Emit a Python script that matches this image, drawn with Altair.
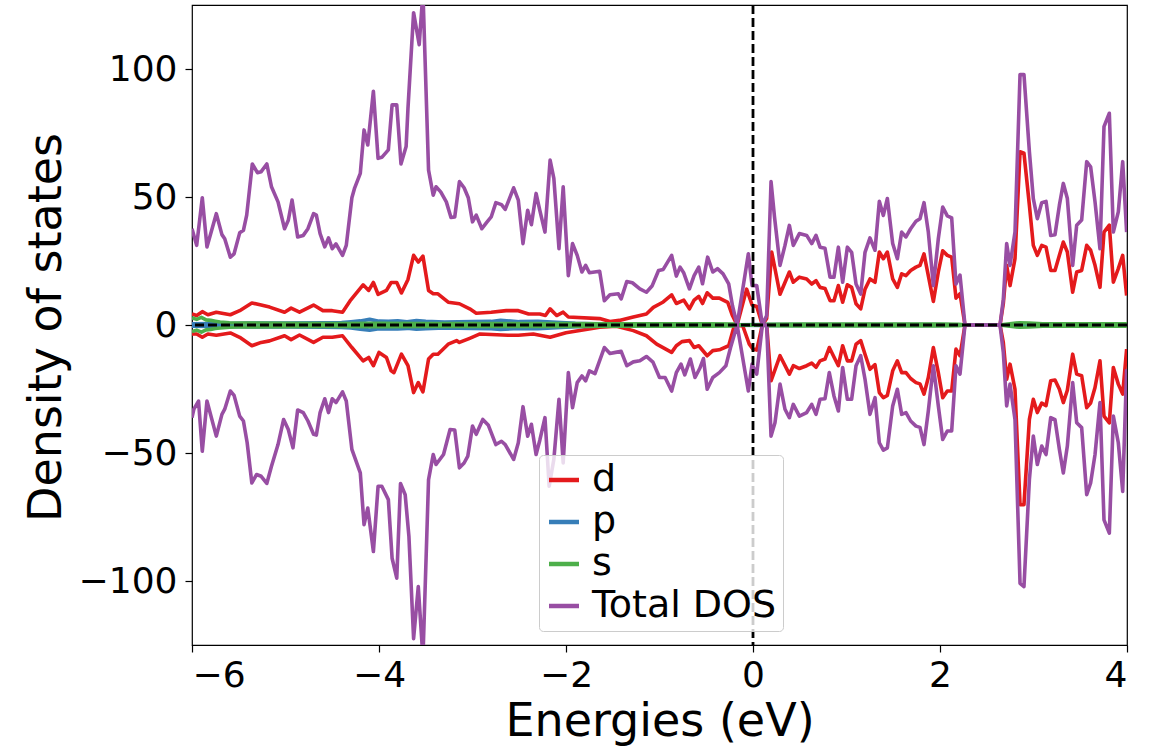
import altair as alt
import pandas as pd

# ---- projected density of states (spin up > 0, spin down < 0) ----
total_up_e = [-6.00, -5.95, -5.89, -5.84, -5.74, -5.68, -5.65, -5.59, -5.55, -5.49, -5.45, -5.415,
              -5.355, -5.30, -5.26, -5.20, -5.15, -5.08, -5.01, -4.97, -4.93, -4.87, -4.81, -4.76,
              -4.70, -4.67, -4.63, -4.58, -4.54, -4.50, -4.46, -4.39, -4.35, -4.29, -4.26, -4.20,
              -4.16, -4.12, -4.06, -4.01, -3.97, -3.90, -3.86, -3.81, -3.765, -3.71, -3.69, -3.63,
              -3.57, -3.53, -3.47, -3.42, -3.39, -3.34, -3.28, -3.23, -3.19, -3.14, -3.09, -3.045,
              -3.00, -2.96, -2.90, -2.85, -2.80, -2.75, -2.69, -2.65, -2.56, -2.51, -2.46, -2.41,
              -2.37, -2.32, -2.28, -2.225, -2.17, -2.13, -2.075, -2.03, -1.975, -1.93, -1.88, -1.83,
              -1.79, -1.75, -1.64, -1.59, -1.53, -1.44, -1.41, -1.35, -1.29, -1.21, -1.14, -1.08,
              -1.01, -0.96, -0.87, -0.82, -0.78, -0.74, -0.68, -0.63, -0.58, -0.54, -0.485, -0.43,
              -0.38, -0.32, -0.26, -0.22, -0.17, -0.05, -0.01, 0.04, 0.10, 0.146, 0.193, 0.23,
              0.289, 0.342, 0.389, 0.431, 0.496, 0.574, 0.628, 0.674, 0.717, 0.77, 0.824, 0.866,
              0.913, 0.959, 1.009, 1.055, 1.102, 1.152, 1.198, 1.251, 1.305, 1.351, 1.394, 1.437,
              1.494, 1.544, 1.59, 1.636, 1.686, 1.743, 1.786, 1.829, 1.875, 1.929, 1.982, 2.029,
              2.078, 2.125, 2.171, 2.214, 2.267, 2.642, 2.677, 2.713, 2.749, 2.802, 2.856, 2.898,
              2.956, 2.998, 3.041, 3.088, 3.134, 3.184, 3.23, 3.277, 3.319, 3.362, 3.419, 3.462,
              3.515, 3.569, 3.611, 3.658, 3.711, 3.754, 3.811, 3.854, 3.907, 3.954, 3.996]
total_up = [37.6, 31.1, 49.7, 30.5, 43.5, 35.3, 33.7, 26.5, 27.8, 36.0, 37.0, 42.9,
            62.9, 59.5, 59.9, 62.9, 54.0, 48.1, 37.6, 40.9, 48.8, 34.4, 35.0, 37.6,
            43.5, 42.9, 35.7, 30.5, 34.0, 29.8, 31.7, 27.2, 31.1, 49.7, 53.6, 59.2,
            76.2, 70.3, 91.3, 65.1, 65.5, 68.4, 86.0, 86.0, 62.9, 69.7, 84.7, 122.0,
            109.5, 130.0, 60.5, 50.7, 54.0, 52.0, 48.1, 42.0, 42.2, 56.0, 53.6, 49.7,
            40.3, 42.9, 37.6, 40.0, 42.2, 47.8, 47.0, 45.2, 53.6, 48.8, 31.8, 44.8,
            39.2, 51.4, 44.8, 36.3, 64.4, 57.3, 29.8, 54.0, 19.3, 31.8, 27.2, 20.7,
            23.3, 20.4, 21.0, 9.5, 11.8, 12.2, 10.2, 17.0, 16.5, 14.1, 12.8, 15.2,
            21.3, 21.7, 27.2, 19.1, 22.6, 20.3, 14.1, 19.3, 22.6, 16.1, 26.5, 20.7,
            22.0, 20.0, 16.1, 7.6, 0.0, 27.8, 15.4, 15.4, 0.0, 3.7, 56.0, 42.2,
            23.3, 31.1, 38.9, 31.1, 35.7, 35.0, 31.8, 35.0, 30.4, 30.0, 18.7, 18.7,
            30.4, 16.7, 30.4, 28.4, 16.0, 12.1, 28.4, 34.0, 29.2, 48.3, 42.8, 49.4,
            31.8, 25.9, 36.3, 34.4, 37.6, 40.5, 41.5, 47.8, 36.3, 15.4, 33.7, 46.1,
            42.6, 41.8, 16.0, 19.5, 0.0, 0.0, 10.0, 31.8, 23.3, 36.3, 97.8, 97.8,
            67.7, 49.4, 41.5, 47.8, 48.3, 35.0, 35.3, 46.8, 55.3, 49.4, 23.3, 39.0,
            41.0, 63.8, 61.8, 48.1, 29.8, 77.5, 82.7, 36.3, 44.2, 63.8, 36.3]

total_dn_e = [-6.00, -5.98, -5.93, -5.89, -5.84, -5.74, -5.68, -5.65, -5.59, -5.55, -5.49, -5.45,
              -5.41, -5.36, -5.31, -5.26, -5.20, -5.15, -5.08, -5.02, -4.97, -4.92, -4.87, -4.81,
              -4.76, -4.70, -4.67, -4.63, -4.58, -4.54, -4.50, -4.46, -4.39, -4.35, -4.29, -4.20,
              -4.16, -4.12, -4.06, -4.01, -3.97, -3.90, -3.86, -3.81, -3.77, -3.72, -3.68, -3.63,
              -3.58, -3.53, -3.47, -3.42, -3.39, -3.31, -3.24, -3.19, -3.14, -3.09, -3.05, -3.00,
              -2.96, -2.89, -2.83, -2.75, -2.69, -2.65, -2.56, -2.51, -2.46, -2.41, -2.37, -2.32,
              -2.28, -2.225, -2.18, -2.13, -2.075, -2.03, -1.975, -1.93, -1.88, -1.83, -1.79, -1.75,
              -1.69, -1.59, -1.53, -1.47, -1.41, -1.35, -1.28, -1.21, -1.14, -1.07, -1.00, -0.94,
              -0.87, -0.82, -0.77, -0.73, -0.67, -0.62, -0.57, -0.53, -0.49, -0.43, -0.36, -0.29,
              -0.24, -0.17, -0.05, -0.01, 0.04, 0.10, 0.146, 0.193, 0.235, 0.289, 0.342, 0.389,
              0.431, 0.496, 0.574, 0.628, 0.674, 0.717, 0.77, 0.816, 0.866, 0.913, 0.959, 1.009,
              1.055, 1.102, 1.152, 1.198, 1.251, 1.305, 1.351, 1.394, 1.437, 1.494, 1.544, 1.59,
              1.636, 1.686, 1.743, 1.786, 1.829, 1.875, 1.929, 1.982, 2.029, 2.078, 2.125, 2.171,
              2.214, 2.267, 2.642, 2.677, 2.713, 2.749, 2.802, 2.856, 2.898, 2.956, 2.998, 3.041,
              3.088, 3.134, 3.184, 3.23, 3.277, 3.319, 3.362, 3.419, 3.462, 3.515, 3.569, 3.611,
              3.658, 3.711, 3.754, 3.811, 3.854, 3.907, 3.954, 3.996]
total_dn = [-36.2, -32.9, -29.7, -49.3, -29.7, -43.4, -34.9, -32.9, -25.8, -27.5, -35.6, -37.5,
            -46.0, -61.7, -58.4, -59.1, -61.9, -55.2, -46.7, -36.9, -40.8, -48.0, -33.2, -34.2,
            -37.5, -42.7, -43.0, -34.2, -28.8, -34.2, -28.8, -30.3, -26.1, -29.7, -48.6, -57.8,
            -78.0, -71.5, -88.5, -63.0, -63.0, -68.2, -91.1, -98.9, -61.9, -66.3, -82.6, -122.5,
            -102.2, -130.0, -60.4, -50.6, -54.5, -50.6, -40.8, -41.0, -55.8, -53.9, -51.2, -39.5,
            -42.7, -36.9, -39.2, -46.7, -45.4, -46.7, -52.5, -46.0, -31.9, -43.4, -38.8, -50.6,
            -45.0, -36.2, -63.0, -52.5, -29.0, -53.9, -18.6, -32.3, -22.5, -19.9, -21.8, -17.9,
            -19.0, -8.8, -11.1, -10.7, -10.3, -15.9, -14.4, -14.0, -12.3, -14.5, -20.5, -20.5,
            -25.8, -18.6, -15.3, -19.5, -13.3, -20.5, -17.0, -13.1, -25.1, -20.5, -18.6, -15.9,
            -8.8, 0.0, -25.8, -15.3, -19.2, 0.0, 0.0, -43.4, -38.2, -23.1, -32.9, -36.2,
            -31.0, -35.6, -34.2, -31.0, -34.9, -29.0, -28.8, -18.6, -27.7, -33.6, -16.6, -29.0,
            -29.0, -15.9, -12.0, -21.2, -34.9, -28.4, -46.0, -48.9, -48.0, -31.6, -25.1, -34.9,
            -34.2, -37.5, -39.5, -40.0, -46.7, -33.6, -15.9, -31.6, -44.7, -41.4, -41.4, -15.9,
            -19.2, 0.0, 0.0, -10.7, -31.6, -23.1, -36.9, -100.9, -102.2, -60.4, -43.4, -54.5,
            -47.3, -50.6, -36.2, -37.0, -48.6, -57.8, -47.3, -22.5, -38.2, -40.1, -66.3, -61.7,
            -50.6, -30.3, -76.1, -81.3, -35.6, -46.0, -65.0, -17.3]

d_up_e = [-6.00, -5.95, -5.89, -5.83, -5.74, -5.59, -5.49, -5.36, -5.26, -5.17, -5.01, -4.94,
          -4.85, -4.70, -4.60, -4.50, -4.39, -4.31, -4.17, -4.11, -4.06, -4.01, -3.92, -3.87,
          -3.81, -3.76, -3.69, -3.63, -3.58, -3.53, -3.47, -3.42, -3.37, -3.26, -3.14, -3.03,
          -2.96, -2.80, -2.64, -2.51, -2.40, -2.28, -2.22, -2.17, -2.10, -2.03, -1.975, -1.64,
          -1.53, -1.43, -1.28, -1.14, -1.066, -0.96, -0.87, -0.82, -0.74, -0.68, -0.63, -0.58,
          -0.54, -0.49, -0.43, -0.36, -0.27, -0.22, -0.17, -0.068, -0.01, 0.04, 0.10, 0.146,
          0.20, 0.289, 0.389, 0.431, 0.496, 0.574, 0.628, 0.674, 0.717, 0.77, 0.824, 0.866,
          0.913, 0.959, 1.009, 1.055, 1.102, 1.152, 1.198, 1.251, 1.305, 1.351, 1.394, 1.437,
          1.494, 1.544, 1.59, 1.636, 1.686, 1.743, 1.786, 1.829, 1.875, 1.929, 1.982, 2.029,
          2.078, 2.125, 2.171, 2.214, 2.267, 2.642, 2.677, 2.713, 2.749, 2.802, 2.856, 2.898,
          2.956, 2.998, 3.041, 3.088, 3.134, 3.184, 3.23, 3.277, 3.319, 3.362, 3.419, 3.462,
          3.515, 3.569, 3.611, 3.658, 3.711, 3.754, 3.811, 3.854, 3.907, 3.954, 3.996]
d_up = [4.3, 3.7, 5.2, 4.0, 5.0, 4.0, 5.6, 8.6, 7.8, 7.0, 5.0, 6.6,
        5.0, 7.8, 5.6, 5.6, 5.0, 9.4, 15.7, 13.5, 16.6, 12.0, 13.5, 16.6,
        16.6, 12.5, 17.8, 27.2, 24.6, 26.9, 13.5, 12.2, 12.2, 8.9, 8.3, 6.3,
        4.6, 5.0, 5.6, 5.6, 4.3, 4.3, 3.7, 6.3, 3.7, 5.0, 3.1, 2.5,
        1.4, 1.8, 3.1, 4.3, 6.9, 9.0, 11.8, 8.4, 9.7, 6.3, 9.7, 11.2,
        8.4, 12.6, 10.5, 10.5, 8.8, 3.7, 0.0, 14.0, 7.8, 7.2, 0.0, 2.5,
        28.5, 12.0, 20.7, 16.7, 18.7, 18.0, 16.0, 17.3, 14.7, 14.3, 9.5, 9.5,
        15.4, 8.9, 15.7, 14.7, 8.3, 6.3, 14.0, 18.0, 16.7, 28.5, 25.9, 28.5,
        18.0, 14.7, 20.0, 19.3, 21.3, 22.6, 23.3, 27.8, 19.3, 9.2, 20.7, 29.0,
        27.2, 26.5, 10.5, 12.2, 0.0, 0.0, 8.3, 23.3, 15.4, 25.9, 67.7, 67.1,
        46.8, 31.1, 27.2, 31.1, 30.4, 21.3, 21.3, 27.2, 32.4, 28.5, 12.8, 20.7,
        21.3, 31.1, 29.2, 23.3, 14.7, 36.3, 39.0, 16.7, 22.0, 27.2, 11.5]

d_dn_e = [-6.00, -5.95, -5.89, -5.83, -5.74, -5.59, -5.49, -5.36, -5.26, -5.17, -5.01, -4.94,
          -4.85, -4.70, -4.60, -4.50, -4.39, -4.29, -4.17, -4.11, -4.06, -4.00, -3.92, -3.87,
          -3.84, -3.76, -3.69, -3.63, -3.58, -3.53, -3.47, -3.42, -3.37, -3.26, -3.17, -3.14,
          -3.03, -2.92, -2.62, -2.51, -2.35, -2.17, -2.00, -1.64, -1.46, -1.28, -1.14, -1.03,
          -0.87, -0.82, -0.76, -0.68, -0.63, -0.58, -0.49, -0.43, -0.36, -0.26, -0.20, -0.11,
          -0.04, 0.00, 0.04, 0.10, 0.146, 0.193, 0.289, 0.389, 0.431, 0.496, 0.574, 0.628,
          0.674, 0.717, 0.77, 0.816, 0.866, 0.913, 0.959, 1.009, 1.055, 1.102, 1.152, 1.198,
          1.251, 1.305, 1.351, 1.394, 1.437, 1.494, 1.544, 1.59, 1.636, 1.686, 1.743, 1.786,
          1.829, 1.875, 1.929, 1.982, 2.029, 2.078, 2.125, 2.171, 2.214, 2.267, 2.642, 2.677,
          2.713, 2.749, 2.802, 2.856, 2.898, 2.956, 2.998, 3.041, 3.088, 3.134, 3.184, 3.23,
          3.277, 3.319, 3.362, 3.419, 3.462, 3.515, 3.569, 3.611, 3.658, 3.711, 3.754, 3.811,
          3.854, 3.907, 3.954, 3.996]
d_dn = [-3.5, -3.5, -4.8, -3.5, -4.0, -3.1, -4.8, -8.1, -6.8, -6.2, -4.2, -5.7,
        -3.9, -6.8, -4.8, -4.8, -4.2, -8.8, -14.0, -12.7, -15.9, -10.7, -12.7, -17.9,
        -18.6, -11.4, -15.9, -26.4, -22.5, -26.1, -13.3, -11.4, -11.4, -7.5, -6.1, -6.8,
        -5.2, -3.5, -4.0, -4.0, -3.5, -4.8, -3.0, -0.9, -0.5, -2.2, -4.2, -7.5,
        -10.7, -8.1, -6.5, -6.1, -8.8, -8.1, -12.0, -10.0, -9.7, -8.1, -0.3, -0.3,
        -7.5, -9.4, -9.8, 0.0, 0.0, -21.8, -12.0, -19.2, -15.9, -17.0, -15.9, -14.9,
        -16.5, -14.0, -13.3, -8.8, -12.5, -15.9, -8.1, -14.0, -14.0, -7.5, -6.1, -11.4,
        -17.3, -15.5, -26.4, -28.4, -27.5, -17.9, -14.0, -18.6, -18.6, -20.9, -22.5, -23.0,
        -27.0, -20.5, -8.8, -18.6, -28.4, -25.8, -25.8, -9.4, -12.0, 0.0, 0.0, -6.8,
        -21.2, -15.3, -25.1, -70.2, -70.2, -36.9, -29.0, -34.2, -30.5, -31.5, -21.8, -21.5,
        -25.1, -30.3, -25.5, -11.4, -19.2, -19.8, -32.3, -30.5, -24.4, -14.0, -35.6, -38.2,
        -16.6, -23.1, -27.0, -9.4]

p_e = [-6.0, -5.8, -5.6, -5.4, -5.0, -4.6, -4.4, -4.3, -4.2, -4.1, -4.0, -3.9, -3.8, -3.7,
       -3.6, -3.5, -3.3, -3.0, -2.8, -2.7, -2.5, -2.3, -2.1, -1.9, -1.5, -1.0, -0.5, -0.2,
       0.2, 1.0, 2.0, 2.27, 2.64, 2.9, 3.5, 4.0]
p_up = [0.5, 0.6, 0.6, 0.8, 0.8, 0.9, 1.0, 1.3, 1.6, 2.2, 1.5, 1.4, 1.6, 1.3,
        1.7, 1.4, 1.2, 1.3, 1.4, 1.8, 1.3, 1.4, 1.1, 0.7, 0.3, 0.2, 0.2, 0.1,
        0.2, 0.2, 0.2, 0.0, 0.0, 0.4, 0.2, 0.2]
p_dn = [-0.5, -0.6, -0.6, -0.8, -0.8, -0.9, -1.0, -1.2, -1.6, -2.0, -1.5, -1.4, -1.5, -1.3,
        -1.6, -1.4, -1.2, -1.3, -1.4, -1.7, -1.3, -1.4, -1.1, -0.7, -0.3, -0.2, -0.2, -0.1,
        -0.2, -0.2, -0.2, 0.0, 0.0, -0.4, -0.2, -0.2]

s_e = [-6.0, -5.95, -5.9, -5.85, -5.8, -5.75, -5.7, -5.6, -5.5, -5.0, -4.5, -4.0, -3.5, -3.0,
       -2.5, -2.0, -1.5, -1.0, -0.5, -0.2, -0.17, 0.10, 0.15, 0.5, 1.0, 1.5, 2.0, 2.2, 2.27,
       2.64, 2.7, 2.85, 2.95, 3.1, 3.5, 4.0]
s_up = [2.8, 2.2, 3.0, 2.0, 1.8, 1.5, 1.2, 0.9, 0.8, 0.7, 0.6, 0.7, 0.6, 0.6,
        0.6, 0.6, 0.5, 0.5, 0.5, 0.4, 0.0, 0.0, 0.3, 0.4, 0.4, 0.4, 0.4, 0.3, 0.0,
        0.0, 0.3, 0.9, 0.8, 0.5, 0.5, 0.5]
s_dn = [-2.6, -2.0, -2.8, -1.9, -1.7, -1.4, -1.2, -0.9, -0.8, -0.7, -0.6, -0.7, -0.6, -0.6,
        -0.6, -0.6, -0.5, -0.5, -0.5, -0.4, 0.0, 0.0, -0.3, -0.4, -0.4, -0.4, -0.4, -0.3, 0.0,
        0.0, -0.3, -0.9, -0.8, -0.5, -0.5, -0.5]

orbitals = ["d", "p", "s", "Total DOS"]
palette = ["#e41a1c", "#377eb8", "#4daf4a", "#984ea3"]
x_ticks = [-6, -4, -2, 0, 2, 4]
y_ticks = [-100, -50, 0, 50, 100]

series = [
    ("d", "up", d_up_e, d_up), ("d", "down", d_dn_e, d_dn),
    ("p", "up", p_e, p_up), ("p", "down", p_e, p_dn),
    ("s", "up", s_e, s_up), ("s", "down", s_e, s_dn),
    ("Total DOS", "up", total_up_e, total_up), ("Total DOS", "down", total_dn_e, total_dn),
]
rows = []
for name, spin, es, vs in series:
    for e, v in zip(es, vs):
        rows.append({"E": e, "DOS": v, "orbital": name, "spin": spin})
df = pd.DataFrame(rows)

FONT = "DejaVu Sans"

x_enc = alt.X("E:Q", scale=alt.Scale(domain=[-6, 4], nice=False, zero=False),
              axis=alt.Axis(values=x_ticks, title="Energies (eV)", format="d",
                            titleY=90, titleBaseline="alphabetic", labelPadding=6))
y_enc = alt.Y("DOS:Q", scale=alt.Scale(domain=[-125, 125], nice=False, zero=False),
              axis=alt.Axis(values=y_ticks, title="Density of states", format="d",
                            titleX=-122, titleY=322, labelPadding=8))
color_enc = alt.Color(
    "orbital:N",
    scale=alt.Scale(domain=orbitals, range=palette),
    sort=orbitals,
    legend=alt.Legend(
        title=None, orient="none", legendX=347, legendY=450,
        symbolType="stroke", symbolSize=900, symbolStrokeWidth=4.5,
        labelFontSize=38, labelFont=FONT, labelColor="black", labelOffset=9,
        labelLimit=0, padding=6, rowPadding=4, fillColor="rgba(255,255,255,0.8)",
        strokeColor="#cccccc", cornerRadius=4,
    ),
)


def dos_layer(name):
    return (
        alt.Chart(df)
        .transform_filter(alt.datum.orbital == name)
        .mark_line(strokeWidth=3.6, clip=True, strokeJoin="round")
        .encode(x=x_enc, y=y_enc, color=color_enc, detail="spin:N")
    )


zero_h = alt.Chart(pd.DataFrame({"DOS": [0]})).mark_rule(
    color="black", strokeDash=[9, 4], strokeWidth=2.8
).encode(y=y_enc)
fermi_v = alt.Chart(pd.DataFrame({"E": [0]})).mark_rule(
    color="black", strokeDash=[9, 4], strokeWidth=2.8
).encode(x=x_enc)

chart = (
    alt.layer(*[dos_layer(n) for n in orbitals], zero_h, fermi_v)
    .properties(
        width=935, height=640,
        padding={"left": 192, "top": 5, "right": 34, "bottom": 102},
        autosize=alt.AutoSizeParams(type="none"),
        background="white",
    )
    .configure_view(stroke="black", strokeWidth=1.2)
    .configure_axis(
        domain=False, grid=False, tickColor="black", tickSize=7, tickWidth=1.2,
        labelFont=FONT, labelFontSize=36, labelColor="black",
        titleFont=FONT, titleFontSize=46, titleFontWeight="normal", titleColor="black",
    )
)

chart.save("out.html", embed_options={"renderer": "svg", "actions": False})
